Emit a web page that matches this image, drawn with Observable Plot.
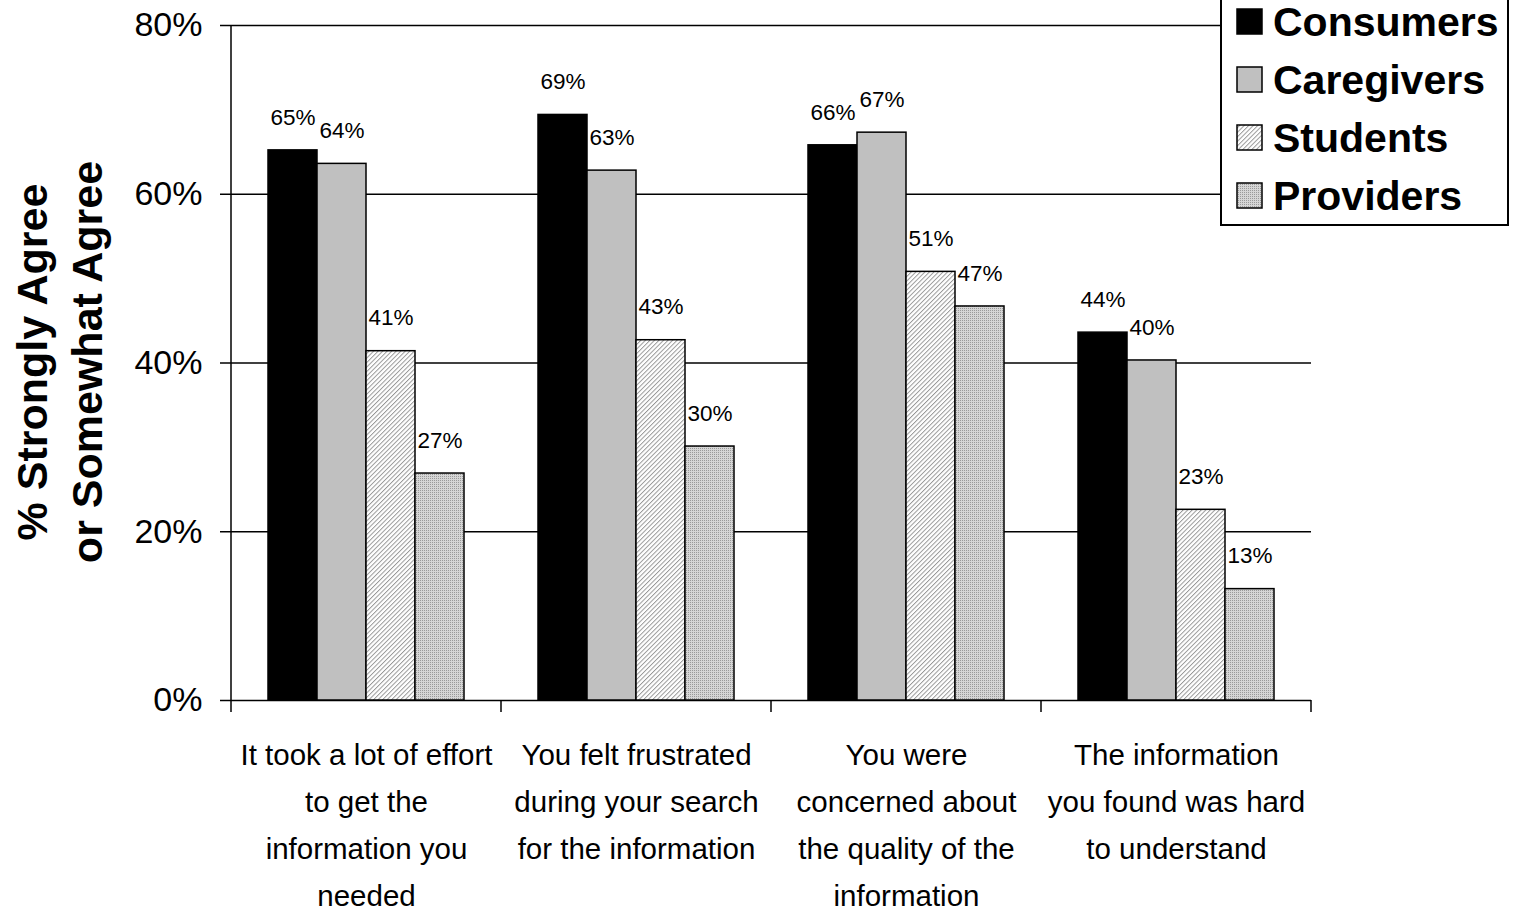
<!DOCTYPE html>
<html>
<head>
<meta charset="utf-8">
<script src="https://cdn.jsdelivr.net/npm/d3@7"></script>
<script src="https://cdn.jsdelivr.net/npm/@observablehq/plot@0.6"></script>
<style>
  body { margin: 0; background: white; }
  #wrap { position: relative; width: 1515px; height: 912px; overflow: hidden; font-family: "Liberation Sans", Arial, sans-serif; }
  #ylabel { position: absolute; left: -190px; top: 307px; width: 500px; height: 110px; text-align: center;
            font-weight: bold; font-size: 43px; line-height: 55px; transform: rotate(-90deg); white-space: nowrap; }
  #legend { position: absolute; left: 1220px; top: -11px; width: 289px; height: 237px; border: 2px solid black;
            background: white; box-sizing: border-box; padding-top: 2px; }
  .row { display: flex; align-items: center; height: 58px; padding-left: 14px; font-weight: bold; font-size: 41px; }
  .row svg { margin-right: 9px; }
</style>
</head>
<body>
<svg width="0" height="0" style="position:absolute">
  <defs>
    <pattern id="hatch" patternUnits="userSpaceOnUse" width="3.2" height="3.2" patternTransform="rotate(45)">
      <rect width="3.2" height="3.2" fill="#ffffff"></rect>
      <line x1="0.5" y1="0" x2="0.5" y2="3.2" stroke="#8f8f8f" stroke-width="0.9"></line>
    </pattern>
    <pattern id="dots" patternUnits="userSpaceOnUse" width="2" height="2">
      <rect width="2" height="2" fill="#d6d6d6"></rect>
      <rect width="1" height="1" fill="#9a9a9a"></rect>
    </pattern>
  </defs>
</svg>
<div id="wrap">
  <div id="chart"></div>
  <div id="ylabel">% Strongly Agree<br>or Somewhat Agree</div>
  <div id="legend"></div>
</div>
<script>
const categories = [
  "It took a lot of effort\nto get the\ninformation you\nneeded",
  "You felt frustrated\nduring your search\nfor the information",
  "You were\nconcerned about\nthe quality of the\ninformation",
  "The information\nyou found was hard\nto understand"
];
const series = ["Consumers", "Caregivers", "Students", "Providers"];
const consumers  = [65.2, 69.4, 65.8, 43.6];
const caregivers = [63.6, 62.8, 67.3, 40.3];
const students   = [41.4, 42.7, 50.8, 22.6];
const providers  = [26.9, 30.1, 46.7, 13.2];
const yTicks = [0, 20, 40, 60, 80];
const seriesFills = ["#000000", "#c0c0c0", "url(#hatch)", "url(#dots)"];

const valuesBySeries = [consumers, caregivers, students, providers];
const data = [];
categories.forEach((c, i) => {
  series.forEach((s, j) => data.push({category: c, series: s, value: valuesBySeries[j][i]}));
});

const chart = Plot.plot({
  width: 1515,
  height: 912,
  marginLeft: 231,
  marginRight: 204,
  marginTop: 25,
  marginBottom: 212,
  style: {fontFamily: "'Liberation Sans', Arial, sans-serif", background: "white", color: "black", overflow: "visible"},
  fx: {domain: categories, padding: 0, label: null},
  x: {domain: series, paddingInner: 0, paddingOuter: 0.727, axis: null},
  y: {domain: [0, 80], label: null},
  color: {domain: series, range: seriesFills},
  marks: [
    Plot.ruleY(yTicks, {stroke: "black", strokeWidth: 1.5}),
    Plot.barY(data, {fx: "category", x: "series", y: "value", fill: "series", stroke: "black", strokeWidth: 1.5}),
    Plot.text(data, {fx: "category", x: "series", y: "value", text: d => Math.round(d.value) + "%",
      dy: -33, fontSize: 22.5, fill: "black"}),
    Plot.axisY({anchor: "left", ticks: yTicks, tickFormat: d => d + "%", tickSize: 11, tickPadding: 18,
      fontSize: 34, label: null, strokeWidth: 1.5}),
    Plot.axisFx({anchor: "bottom", tickSize: 0, tickPadding: 31, fontSize: 29.5, lineHeight: 1.59, label: null})
  ]
});
document.getElementById("chart").appendChild(chart);

// axis line and category boundary ticks, positioned from the plot's own scales
const fx = chart.scale("fx");
const y = chart.scale("y");
const svg = d3.select(chart);
const x0 = fx.apply(categories[0]);
const yBase = y.apply(0);
svg.append("line").attr("x1", x0).attr("x2", x0).attr("y1", y.apply(80)).attr("y2", yBase)
  .attr("stroke", "black").attr("stroke-width", 1.5);
const bounds = categories.map(c => fx.apply(c)).concat([fx.apply(categories[categories.length - 1]) + fx.bandwidth]);
svg.append("g").selectAll("line").data(bounds).join("line")
  .attr("x1", d => d).attr("x2", d => d).attr("y1", yBase).attr("y2", yBase + 12)
  .attr("stroke", "black").attr("stroke-width", 1.5);

// legend
const legend = d3.select("#legend");
series.forEach((s, i) => {
  const row = legend.append("div").attr("class", "row");
  const sw = row.append("svg").attr("width", 28).attr("height", 28);
  sw.append("rect").attr("x", 1).attr("y", 1).attr("width", 25).attr("height", 25)
    .attr("fill", seriesFills[i]).attr("stroke", "black").attr("stroke-width", 1.5);
  row.append("span").text(s);
});
</script>
</body>
</html>
